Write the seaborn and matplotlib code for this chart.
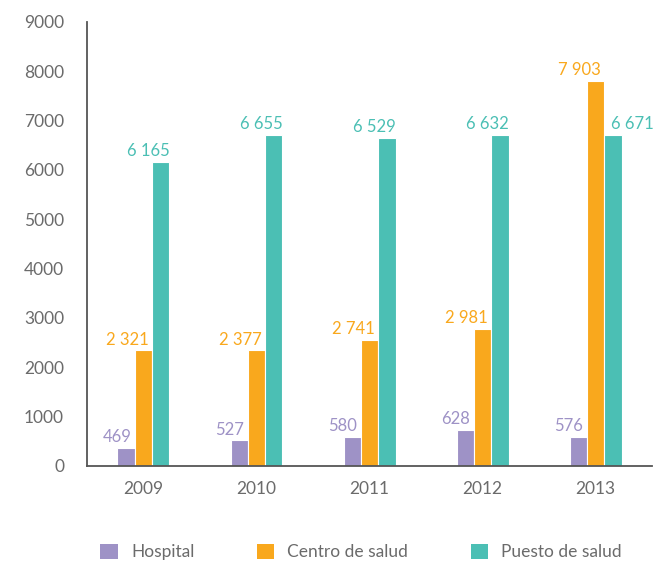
import pandas as pd
import matplotlib.pyplot as plt
import seaborn as sns
from matplotlib.patches import Patch

# datos (alturas de barra tal como se dibujan) y sus etiquetas
years = ['2009', '2010', '2011', '2012', '2013']
series = ['Hospital', 'Centro de salud', 'Puesto de salud']
hospital = [370, 515, 590, 730, 590]
centro = [2340, 2340, 2555, 2780, 7810]
puesto = [6165, 6715, 6655, 6715, 6715]
hospital_labels = ['469', '527', '580', '628', '576']
centro_labels = ['2 321', '2 377', '2 741', '2 981', '7 903']
puesto_labels = ['6 165', '6 655', '6 529', '6 632', '6 671']
y_ticks = [0, 1000, 2000, 3000, 4000, 5000, 6000, 7000, 8000, 9000]

colors = ['#9e92c6', '#f9a81d', '#4bbfb4']
gray = '#6b6b6b'


def main():
    sns.set_style('white')
    plt.rcParams['font.family'] = ['Lato', 'DejaVu Sans']

    df = pd.DataFrame({
        'year': years * 3,
        'tipo': [s for s in series for _ in years],
        'valor': hospital + centro + puesto,
    })

    fig = plt.figure(figsize=(6.54, 5.62), dpi=100)
    ax = fig.add_axes([0.133, 0.171, 0.864, 0.79])

    sns.barplot(data=df, x='year', y='valor', hue='tipo', order=years,
                hue_order=series, palette=colors, saturation=1, width=0.46,
                edgecolor='white', linewidth=0.8, legend=False, ax=ax)

    # etiquetas de valor encima de cada barra
    all_labels = [hospital_labels, centro_labels, puesto_labels]
    for k, cont in enumerate(ax.containers):
        for i, bar in enumerate(cont):
            h = bar.get_height()
            if k == 2 and i == 4:
                # la ultima etiqueta va a la derecha de la barra
                xpos = bar.get_x() + bar.get_width() / 2
                ax.annotate(all_labels[k][i], xy=(xpos, h), xytext=(-1, 4),
                            textcoords='offset points', ha='left', va='baseline',
                            color=colors[k], fontsize=12, annotation_clip=False)
                continue
            xpos = bar.get_x() + bar.get_width()
            dx = 0 if k == 2 else -2.5
            ax.annotate(all_labels[k][i], xy=(xpos, h), xytext=(dx, 4),
                        textcoords='offset points', ha='right', va='baseline',
                        color=colors[k], fontsize=12)

    ax.set_ylim(0, 9000)
    ax.set_xlim(-0.5, 4.5)
    ax.set_yticks(y_ticks)
    ax.set_yticklabels([str(v) for v in y_ticks])
    ax.set_xlabel('')
    ax.set_ylabel('')

    for side in ['top', 'right']:
        ax.spines[side].set_visible(False)
    for side in ['left', 'bottom']:
        ax.spines[side].set_color('#555555')
        ax.spines[side].set_linewidth(1.3)

    ax.tick_params(axis='y', direction='inout', length=9, width=1.3,
                   color='#555555', labelcolor=gray, labelsize=12.5, pad=12)
    ax.tick_params(axis='x', which='major', length=0, labelcolor=gray,
                   labelsize=12.5, pad=11)
    ax.set_xticks([0.5, 1.5, 2.5, 3.5, 4.5], minor=True)
    ax.tick_params(axis='x', which='minor', direction='in', length=5,
                   width=1.3, color='#555555')

    handles = [Patch(facecolor=c, edgecolor='none') for c in colors]
    leg = fig.legend(handles, series, loc='center', bbox_to_anchor=(0.552, 0.018),
                     ncol=3, frameon=False, fontsize=12.5, handlelength=1.0,
                     handleheight=1.0, handletextpad=0.75, columnspacing=3.6,
                     borderpad=0)
    for t in leg.get_texts():
        t.set_color(gray)

    fig.savefig('out.png', dpi=100)


if __name__ == '__main__':
    main()
